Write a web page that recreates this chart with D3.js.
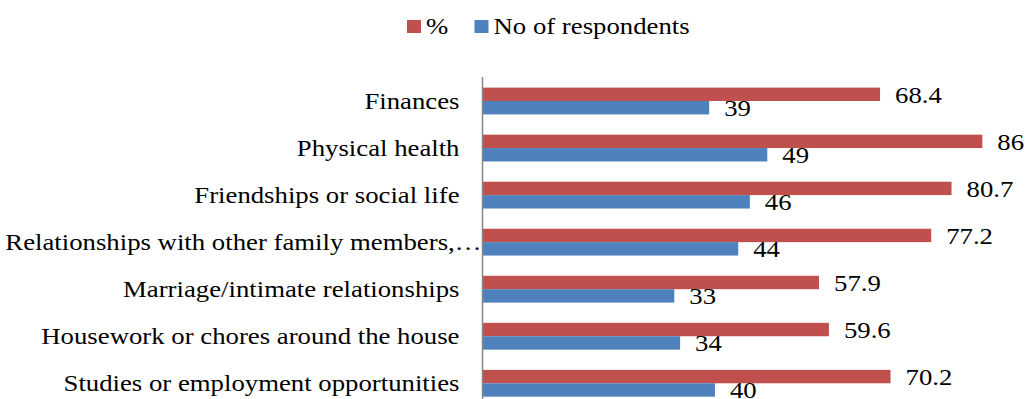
<!DOCTYPE html>
<html>
<head>
<meta charset="utf-8">
<script src="https://cdn.jsdelivr.net/npm/d3@7"></script>
<style>
  html, body { margin: 0; padding: 0; background: #fff; }
  svg { display: block; }
  text { font-family: "Liberation Serif", "Times New Roman", serif; fill: #000; }
</style>
</head>
<body>
<svg id="chart" width="1033" height="399"></svg>
<script>
const categories = [
  "Finances",
  "Physical health",
  "Friendships or social life",
  "Relationships with other family members,\u2026",
  "Marriage/intimate relationships",
  "Housework or chores around the house",
  "Studies or employment opportunities"
];
const percentValues = [68.4, 86, 80.7, 77.2, 57.9, 59.6, 70.2];
const respondentValues = [39, 49, 46, 44, 33, 34, 40];
const seriesNames = ["%", "No of respondents"];
const seriesColors = ["#C0504D", "#4F81BD"];

const svg = d3.select("#chart");
const W = 1033, H = 399;
const fontSize = 24;
const stretch = 1.115;

const x = d3.scaleLinear().domain([0, 100]).range([482.5, 1063.7]);
const y = d3.scaleBand().domain(categories).range([77.5, 406.8])
  .paddingInner(0.43).paddingOuter(0.215);
const sub = d3.scaleBand().domain(seriesNames).range([0, y.bandwidth()]);

const series = [percentValues, respondentValues];

// bars
series.forEach((vals, si) => {
  svg.append("g").selectAll("rect")
    .data(categories)
    .join("rect")
    .attr("x", x(0))
    .attr("y", c => y(c) + sub(seriesNames[si]))
    .attr("width", (c, i) => x(vals[i]) - x(0))
    .attr("height", sub.bandwidth())
    .attr("fill", seriesColors[si]);
});

// value labels
series.forEach((vals, si) => {
  svg.append("g").selectAll("text")
    .data(categories)
    .join("text")
    .attr("transform", (c, i) => {
      const tx = x(vals[i]) + 15;
      const ty = y(c) + sub(seriesNames[si]) + sub.bandwidth() / 2 + 8.5;
      return `translate(${tx},${ty}) scale(${stretch},1)`;
    })
    .attr("font-size", fontSize)
    .text((c, i) => vals[i]);
});

// category axis; truncated (ellipsis) labels run up to the axis line
const axis = d3.axisLeft(y).tickSize(0).tickPadding(0);
const gAxis = svg.append("g").attr("transform", `translate(${x(0)},0)`).call(axis);
gAxis.select(".domain").remove();
gAxis.selectAll(".tick text")
  .attr("font-family", "Liberation Serif, Times New Roman, serif")
  .attr("font-size", fontSize)
  .attr("fill", "#000")
  .attr("x", 0).attr("dy", null)
  .attr("transform", d => `translate(${d.endsWith("\u2026") ? -1 : -23},8) scale(${stretch},1)`)
  .attr("text-anchor", "end");
svg.append("line")
  .attr("x1", x(0)).attr("x2", x(0))
  .attr("y1", 77).attr("y2", H + 10)
  .attr("stroke", "#868686").attr("stroke-width", 1.5);

// legend
const legend = svg.append("g");
const legendItems = [
  { name: seriesNames[0], color: seriesColors[0], sx: 407 },
  { name: seriesNames[1], color: seriesColors[1], sx: 474.5 }
];
legendItems.forEach(d => {
  legend.append("rect")
    .attr("x", d.sx).attr("y", 20)
    .attr("width", 14).attr("height", 13)
    .attr("fill", d.color);
  legend.append("text")
    .attr("transform", `translate(${d.sx + 19},33.5) scale(${stretch},1)`)
    .attr("font-size", fontSize)
    .text(d.name);
});
</script>
</body>
</html>
